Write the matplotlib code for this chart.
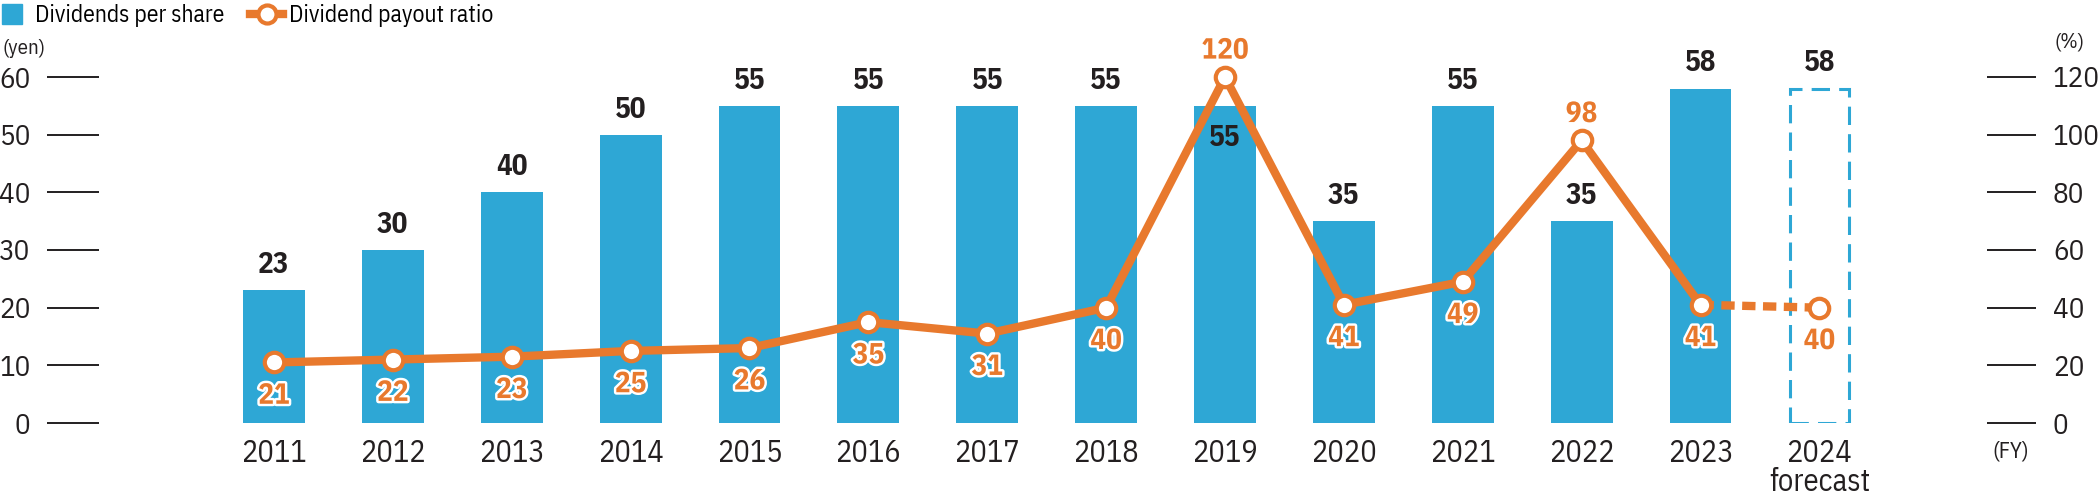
import matplotlib
matplotlib.use("Agg")
import matplotlib.pyplot as plt
import matplotlib.patheffects as pe
from matplotlib.lines import Line2D
import numpy as np

# data
years = ["2011", "2012", "2013", "2014", "2015", "2016", "2017", "2018",
         "2019", "2020", "2021", "2022", "2023", "2024\nforecast"]
dividends = [23, 30, 40, 50, 55, 55, 55, 55, 55, 35, 55, 35, 58, 58]
payout = [21, 22, 23, 25, 26, 35, 31, 40, 120, 41, 49, 98, 41, 40]
payout_above = [8, 11]        # ratio label above the marker
dps_inside = [8]              # dividend label inside the bar

BLUE = "#2ea7d5"
ORANGE = "#e8792d"
INK = "#231f20"
COND = ["IBM Plex Sans Condensed", "DejaVu Sans"]

fig = plt.figure(figsize=(20.99, 4.98), dpi=100)
ax = fig.add_axes([99 / 2099, 75 / 498, (1987 - 99) / 2099, (423 - 77) / 498])
ax2 = ax.twinx()

x = np.arange(len(years))
n_act = len(years) - 1

# bars
ax.bar(x[:n_act], dividends[:n_act], width=0.52, color=BLUE, zorder=2)
ax.bar(x[n_act:], dividends[n_act:], width=0.5, fill=False, edgecolor=BLUE,
       linewidth=2.2, linestyle=(0, (6.0, 3.0)), zorder=2)

ax.set_xlim(-1.472, 14.41)
ax.set_ylim(0, 60)
ax.set_yticks(range(0, 61, 10))
ax2.set_ylim(0, 120)
ax2.set_yticks(range(0, 121, 20))

for a in (ax, ax2):
    for s in a.spines.values():
        s.set_visible(False)
ax.tick_params(axis="y", length=37.5, width=1.4, color=INK, pad=12,
               labelsize=21, labelcolor=INK)
ax2.tick_params(axis="y", length=35.5, width=1.4, color=INK, pad=12,
                labelsize=21, labelcolor=INK)
ax.tick_params(axis="x", length=0, pad=11, labelsize=22, labelcolor=INK)
ax.set_xticks(x)
ax.set_xticklabels(years, linespacing=0.95)
for lab in ax.get_xticklabels() + ax.get_yticklabels() + ax2.get_yticklabels():
    lab.set_family(COND)

# dividend labels
for i, v in enumerate(dividends):
    if i in dps_inside:
        ax.annotate(str(v), (x[i], v), xytext=(0, -23), textcoords="offset points",
                    ha="center", va="center", fontsize=21, fontweight="bold",
                    color=INK, family=COND, zorder=3)
    else:
        ax.annotate(str(v), (x[i], v), xytext=(0, 8), textcoords="offset points",
                    ha="center", va="bottom", fontsize=21, fontweight="bold",
                    color=INK, family=COND, zorder=3)

# payout ratio line
ax2.plot(x[:n_act], payout[:n_act], color=ORANGE, linewidth=6, zorder=4,
         solid_capstyle="butt", clip_on=False)
ax2.plot(x[n_act - 1:], payout[n_act - 1:], color=ORANGE, linewidth=6,
         linestyle=(0, (1.6, 0.9)), zorder=4, clip_on=False)
ax2.plot(x, payout, linestyle="none", marker="o", markersize=14,
         markerfacecolor="white", markeredgecolor=ORANGE, markeredgewidth=3,
         zorder=5, clip_on=False)

stroke = [pe.withStroke(linewidth=3.5, foreground="white")]
for i, v in enumerate(payout):
    dy = 19 if i in payout_above else -24
    ax2.annotate(str(v), (x[i], v), xytext=(0, dy), textcoords="offset points",
                 ha="center", va="center", fontsize=21, fontweight="bold",
                 color=ORANGE, family=COND, path_effects=stroke, zorder=6)

# legend
handles = [
    Line2D([], [], linestyle="none", marker="s", markersize=14,
           markerfacecolor=BLUE, markeredgecolor=BLUE),
    Line2D([], [], color=ORANGE, linewidth=6, marker="o", markersize=13,
           markerfacecolor="white", markeredgecolor=ORANGE, markeredgewidth=3),
]
fig.legend(handles, ["Dividends per share", "Dividend payout ratio"],
           loc="upper left", bbox_to_anchor=(-0.002, 0.992), ncol=2, frameon=False,
           handlelength=1.4, handletextpad=0.25, columnspacing=1.1,
           borderpad=0.0, borderaxespad=0.0, prop={"family": COND, "size": 17})

# unit labels
fig.text(3 / 2099, 1 - 48 / 498, "(yen)", ha="left", va="center",
         fontsize=15, color=INK, family=COND)
fig.text(2054 / 2099, 1 - 42 / 498, "(%)", ha="left", va="center",
         fontsize=15, color=INK, family=COND)
fig.text(2011 / 2099, 1 - 451 / 498, "(FY)", ha="center", va="center",
         fontsize=16, color=INK, family=COND)

fig.savefig("out.png", dpi=100)
